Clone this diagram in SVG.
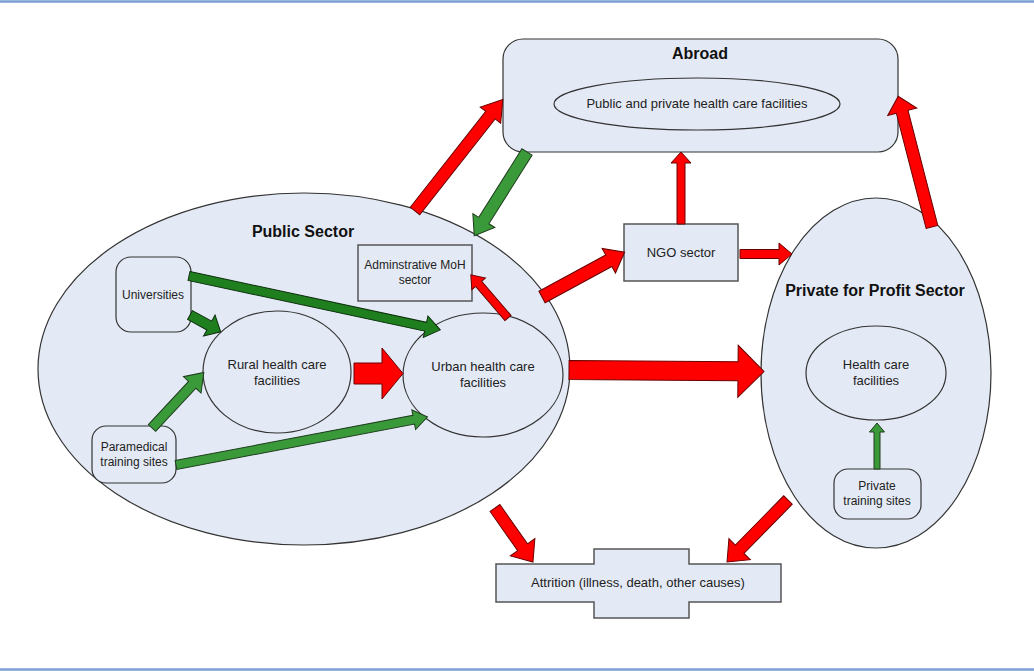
<svg xmlns="http://www.w3.org/2000/svg" width="1034" height="671" viewBox="0 0 1034 671">
<style>
.node{fill:#E4EAF5;stroke:#333;stroke-width:1.2}
.box{fill:#E4EAF5;stroke:#555;stroke-width:1.5}
.t{font-family:"Liberation Sans",Arial,sans-serif;font-size:13px;fill:#222;text-anchor:middle}
.s{font-size:12px}
.b{font-family:"Liberation Sans",Arial,sans-serif;font-weight:bold;font-size:16px;fill:#111;text-anchor:middle}
.red{fill:#FF0000;stroke:#6a0000;stroke-width:1}
.grn{fill:#3A9A3A;stroke:#1e3d1e;stroke-width:1}
.dgr{fill:#1F7F1F;stroke:#0e300e;stroke-width:1}
</style>
<rect width="1034" height="671" fill="#fff"/>
<line x1="0" y1="1.5" x2="1034" y2="1.5" stroke="#7C9FD6" stroke-width="2.5"/>
<line x1="0" y1="669.5" x2="1034" y2="669.5" stroke="#7C9FD6" stroke-width="2.5"/>

<g id="abroad">
<rect class="node" x="503" y="39" width="395" height="113" rx="20"/>
<text class="b" x="700" y="59">Abroad</text>
<ellipse class="node" cx="697" cy="104" rx="143" ry="26"/>
<text class="t" x="697" y="108">Public and private health care facilities</text>
</g>

<g id="public-sector">
<ellipse class="node" cx="304" cy="369" rx="266" ry="176"/>
<text class="b" x="303" y="237">Public Sector</text>
</g>

<g id="private-sector">
<ellipse class="node" cx="876" cy="373" rx="115" ry="175"/>
<text class="b" x="875" y="296">Private for Profit Sector</text>
</g>

<g id="universities">
<rect class="node" x="116" y="257" width="75" height="75" rx="15"/>
<text class="t s" x="153" y="299">Universities</text>
</g>

<g id="rural">
<ellipse class="node" cx="277" cy="372" rx="74" ry="61"/>
<text class="t" x="277" y="369">Rural health care</text>
<text class="t" x="277" y="385">facilities</text>
</g>

<g id="paramedical">
<rect class="node" x="92" y="426" width="84" height="57" rx="14"/>
<text class="t s" x="134" y="451">Paramedical</text>
<text class="t s" x="134" y="466">training sites</text>
</g>

<g id="admin-moh">
<rect class="box" x="358" y="245" width="114" height="56"/>
<text class="t s" x="415" y="269">Adminstrative MoH</text>
<text class="t s" x="415" y="284">sector</text>
</g>

<g id="urban">
<ellipse class="node" cx="483" cy="375" rx="80" ry="62"/>
<text class="t" x="483" y="371">Urban health care</text>
<text class="t" x="483" y="387">facilities</text>
</g>

<g id="ngo">
<rect class="box" x="624" y="224" width="114" height="57"/>
<text class="t" x="681" y="257">NGO sector</text>
</g>

<g id="health-care">
<ellipse class="node" cx="876" cy="373" rx="70" ry="47"/>
<text class="t" x="876" y="369">Health care</text>
<text class="t" x="876" y="385">facilities</text>
</g>

<g id="private-training">
<rect class="node" x="834" y="469" width="87" height="50" rx="14"/>
<text class="t s" x="877" y="490">Private</text>
<text class="t s" x="877" y="505">training sites</text>
</g>

<g id="attrition">
<polygon class="box" points="496,564 594,564 594,549 689,549 689,564 781,564 781,602 689,602 689,618 594,618 594,602 496,602"/>
<text class="t" x="638" y="587">Attrition (illness, death, other causes)</text>
</g>

<g id="connectors">
<polygon class="red" transform="translate(415,211) rotate(-51.8)" points="0,-6 122,-6 122,-13 142,0 122,13 122,6 0,6"/>
<polygon class="grn" transform="translate(527,152) rotate(122.2)" points="0,-6 81,-6 81,-13 99,0 81,13 81,6 0,6"/>
<polygon class="red" transform="translate(681,224) rotate(-90)" points="0,-4 61,-4 61,-10 72,0 61,10 61,4 0,4"/>
<polygon class="red" transform="translate(932,227) rotate(-104.5)" points="0,-6 119,-6 119,-15 135,0 119,15 119,6 0,6"/>
<polygon class="red" transform="translate(542,297) rotate(-28.5)" points="0,-6.5 76,-6.5 76,-14 94,0 76,14 76,6.5 0,6.5"/>
<polygon class="red" transform="translate(740,254)" points="0,-4.5 39,-4.5 39,-11 52,0 39,11 39,4.5 0,4.5"/>
<polygon class="red" transform="translate(508,318) rotate(-130.7)" points="0,-4 45,-4 45,-9 57,0 45,9 45,4 0,4"/>
<polygon class="red" transform="translate(354,373.5)" points="0,-10.5 28,-10.5 28,-25.5 49,0 28,25.5 28,10.5 0,10.5"/>
<polygon class="red" transform="translate(569,370) rotate(0.44)" points="0,-9.5 169,-9.5 169,-26 195,0 169,26 169,9.5 0,9.5"/>
<polygon class="red" transform="translate(495,508) rotate(54.9)" points="0,-6 48,-6 48,-15 66,0 48,15 48,6 0,6"/>
<polygon class="red" transform="translate(788,500) rotate(134.5)" points="0,-6 69,-6 69,-15 87,0 69,15 69,6 0,6"/>
<polygon class="grn" transform="translate(877,469) rotate(-90)" points="0,-3 37,-3 37,-7.5 46,0 37,7.5 37,3 0,3"/>
<polygon class="dgr" transform="translate(189,276) rotate(12.1)" points="0,-4.5 242,-4.5 242,-11 257,0 242,11 242,4.5 0,4.5"/>
<polygon class="dgr" transform="translate(190,315) rotate(28.7)" points="0,-5 22,-5 22,-12 35,0 22,12 22,5 0,5"/>
<polygon class="grn" transform="translate(152,428) rotate(-47)" points="0,-5 59,-5 59,-12 76,0 59,12 59,5 0,5"/>
<polygon class="grn" transform="translate(176,465) rotate(-10.8)" points="0,-4.5 242,-4.5 242,-10 256,0 242,10 242,4.5 0,4.5"/>
</g>
</svg>
